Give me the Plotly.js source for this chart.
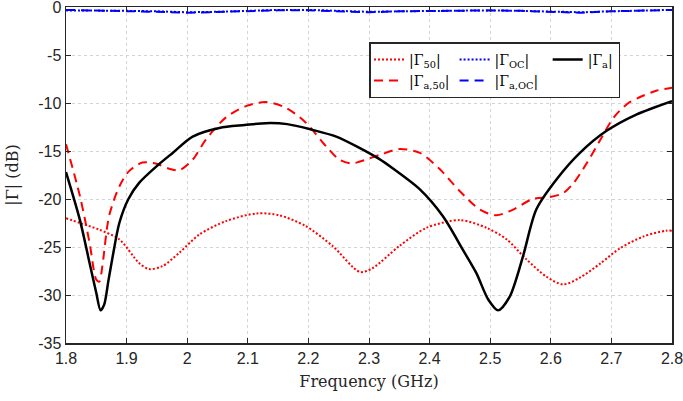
<!DOCTYPE html>
<html>
<head>
<meta charset="utf-8">
<script src="https://cdn.plot.ly/plotly-3.0.1.min.js"></script>
<style>html,body{margin:0;padding:0;background:#fff;}#chart{width:683px;height:401px;}</style>
</head>
<body>
<div id="chart"></div>
<script>
// |Γ50| (red dotted)
const g50_x = [1.8, 1.823, 1.855, 1.888, 1.921, 1.937, 1.959, 1.987, 2.02, 2.064, 2.115, 2.152, 2.195, 2.24, 2.285, 2.306, 2.35, 2.395, 2.45, 2.494, 2.527, 2.56, 2.593, 2.62, 2.648, 2.682, 2.715, 2.753, 2.79, 2.8];
const g50_y = [-22.0, -22.5, -23.2, -24.2, -26.7, -27.3, -27.0, -25.6, -23.7, -22.3, -21.5, -21.7, -22.8, -24.9, -27.6, -27.2, -24.9, -23.0, -22.2, -23.0, -24.2, -26.3, -28.1, -28.9, -28.2, -26.7, -25.1, -23.9, -23.3, -23.3];

// |ΓOC| (blue dotted) and |Γa,OC| (blue dashed)
const goc_x = [1.8, 1.85, 1.9, 1.95, 2.0, 2.05, 2.1, 2.15, 2.2, 2.25, 2.3, 2.35, 2.4, 2.45, 2.5, 2.55, 2.6, 2.65, 2.7, 2.75, 2.8];
const goc_y = [-0.35, -0.35, -0.4, -0.45, -0.55, -0.5, -0.4, -0.3, -0.3, -0.4, -0.5, -0.45, -0.4, -0.38, -0.35, -0.4, -0.5, -0.55, -0.45, -0.35, -0.3];
const gaoc_y = [-0.3, -0.35, -0.4, -0.5, -0.6, -0.5, -0.4, -0.35, -0.35, -0.45, -0.55, -0.45, -0.4, -0.4, -0.35, -0.4, -0.5, -0.6, -0.45, -0.35, -0.3];

// |Γa| (black solid)
const ga_x = [1.8, 1.823, 1.839, 1.85, 1.857, 1.863, 1.87, 1.877, 1.888, 1.903, 1.921, 1.953, 1.976, 2.009, 2.053, 2.095, 2.13, 2.165, 2.207, 2.246, 2.285, 2.316, 2.339, 2.384, 2.422, 2.455, 2.477, 2.497, 2.513, 2.532, 2.554, 2.576, 2.609, 2.648, 2.692, 2.741, 2.8];
const ga_y = [-17.2, -22.2, -26.7, -29.8, -31.6, -31.0, -28.5, -26.0, -22.5, -20.0, -18.3, -16.4, -15.2, -13.5, -12.6, -12.3, -12.1, -12.2, -12.8, -13.5, -14.7, -15.8, -16.8, -19.0, -21.8, -25.3, -27.7, -30.5, -31.6, -30.2, -26.0, -21.1, -18.0, -15.2, -12.9, -11.2, -9.8];

// |Γa,50| (red dashed)
const ga50_x = [1.8, 1.823, 1.839, 1.85, 1.855, 1.86, 1.871, 1.888, 1.904, 1.926, 1.948, 1.968, 1.987, 2.009, 2.031, 2.064, 2.098, 2.13, 2.163, 2.195, 2.229, 2.251, 2.271, 2.285, 2.318, 2.35, 2.384, 2.417, 2.45, 2.483, 2.51, 2.538, 2.57, 2.598, 2.62, 2.638, 2.66, 2.682, 2.704, 2.726, 2.75, 2.775, 2.8];
const ga50_y = [-14.3, -19.7, -24.6, -28.4, -28.6, -27.0, -21.8, -18.7, -17.1, -16.2, -16.3, -16.8, -17.0, -15.9, -13.8, -11.5, -10.3, -9.9, -10.5, -12.0, -14.5, -15.9, -16.3, -16.1, -15.4, -14.8, -15.2, -16.9, -19.2, -21.1, -21.7, -21.1, -20.0, -19.8, -19.4, -18.3, -16.2, -13.8, -11.5, -10.1, -9.3, -8.7, -8.4];

const xTicks = [1.8, 1.9, 2.0, 2.1, 2.2, 2.3, 2.4, 2.5, 2.6, 2.7, 2.8];
const xTickText = ['1.8', '1.9', '2', '2.1', '2.2', '2.3', '2.4', '2.5', '2.6', '2.7', '2.8'];
const yTicks = [-35, -30, -25, -20, -15, -10, -5, 0];
const yTickText = ['-35', '-30', '-25', '-20', '-15', '-10', '-5', '0'];

const traces = [
  {x: g50_x, y: g50_y, name: '|Γ<sub>50</sub>|', legendgroup: 'c1', mode: 'lines',
   line: {color: '#ff0000', width: 2, dash: '2px,2px', shape: 'spline', smoothing: 0.8}},
  {x: ga50_x, y: ga50_y, name: '|Γ<sub>a,50</sub>|', legendgroup: 'c1', mode: 'lines',
   line: {color: '#ff0000', width: 2, dash: '9px,6px', shape: 'spline', smoothing: 0.8}},
  {x: goc_x, y: goc_y, name: '|Γ<sub>OC</sub>|', legendgroup: 'c2', mode: 'lines',
   line: {color: '#0000ff', width: 2, dash: '2px,2px'}},
  {x: goc_x, y: gaoc_y, name: '|Γ<sub>a,OC</sub>|\u00A0', legendgroup: 'c2', mode: 'lines',
   line: {color: '#0000ff', width: 2, dash: '9px,6px'}},
  {x: ga_x, y: ga_y, name: '|Γ<sub>a</sub>|', legendgroup: 'c3', mode: 'lines',
   line: {color: '#000000', width: 2.5, shape: 'spline', smoothing: 0.8}}
];

const axisCommon = {
  showline: true, linecolor: '#262626', linewidth: 1.5, mirror: 'ticks',
  ticks: 'inside', ticklen: 5, tickwidth: 1, tickcolor: '#262626',
  showgrid: true, gridcolor: '#d4d4d4', gridwidth: 1, griddash: 'dot',
  zeroline: false, ticklabeloverflow: 'allow',
  tickfont: {family: 'Liberation Sans, Arial, sans-serif', size: 16, color: '#262626'}
};

const serif = 'DejaVu Serif, serif';

const layout = {
  width: 683, height: 401,
  margin: {l: 66, r: 11, t: 7, b: 58},
  paper_bgcolor: '#ffffff', plot_bgcolor: '#ffffff',
  showlegend: true,
  xaxis: Object.assign({}, axisCommon, {
    range: [1.8, 2.8], tickvals: xTicks, ticktext: xTickText,
    title: {text: 'Frequency (GHz)', standoff: 10,
            font: {family: serif, size: 16, color: '#262626'}}
  }),
  yaxis: Object.assign({}, axisCommon, {
    range: [-35, 0], tickvals: yTicks, ticktext: yTickText,
    title: {text: '|Γ| (dB)', standoff: 15,
            font: {family: serif, size: 16, color: '#262626'}}
  }),
  legend: {
    orientation: 'h', traceorder: 'grouped',
    x: 0.5, xanchor: 'left', y: 0.895, yanchor: 'top',
    bgcolor: '#ffffff', bordercolor: '#262626', borderwidth: 1.5,
    tracegroupgap: 0,
    font: {family: serif, size: 14, color: '#000000'}
  }
};

Plotly.newPlot('chart', traces, layout, {displayModeBar: false, staticPlot: true});
</script>
</body>
</html>
